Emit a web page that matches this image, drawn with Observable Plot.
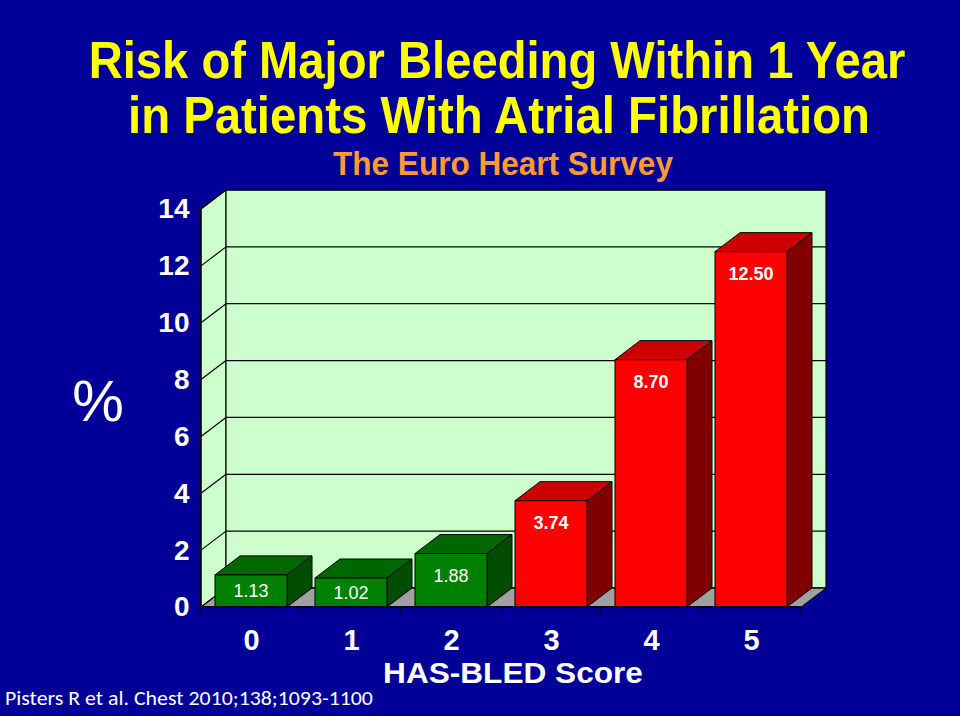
<!DOCTYPE html>
<html>
<head>
<meta charset="utf-8">
<script src="https://cdn.jsdelivr.net/npm/d3@7"></script>
<script src="https://cdn.jsdelivr.net/npm/@observablehq/plot@0.6"></script>
<style>
html, body { margin: 0; padding: 0; background: #000099; }
#chart { width: 960px; height: 716px; overflow: hidden; }
</style>
</head>
<body>
<div id="chart"></div>
<script>
// ---- data ----
const scores = ["0", "1", "2", "3", "4", "5"];
const risk = [1.13, 1.02, 1.88, 3.74, 8.70, 12.50];
const riskLabels = ["1.13", "1.02", "1.88", "3.74", "8.70", "12.50"];
const riskGroup = ["low", "low", "low", "high", "high", "high"];
const yTicks = [0, 2, 4, 6, 8, 10, 12, 14];
const titleLines = ["Risk of Major Bleeding Within 1 Year", "in Patients With Atrial Fibrillation"];
const subtitle = "The Euro Heart Survey";
const xTitle = "HAS-BLED Score";
const yTitle = "%";
const caption = "Pisters R et al. Chest 2010;138;1093-1100";

const data = scores.map((s, i) => ({score: s, risk: risk[i], label: riskLabels[i], group: riskGroup[i]}));

// ---- styles ----
const BG = "#000099";
const WALL = "#ccffcc";
const FLOOR = "#a0a0a0";
const DX = 25, DY = -19;
const faces = {
  low:  {front: "#008000", top: "#006600", side: "#004c00", weight: "normal"},
  high: {front: "#ff0000", top: "#cc0000", side: "#800000", weight: "bold"}
};
const SANS = "'Liberation Sans', Arial, Helvetica, sans-serif";
const NARROW = "'Liberation Sans Narrow', 'Arial Narrow', 'Liberation Sans', Arial, sans-serif";

function bw(x) { return typeof x.bandwidth === "function" ? x.bandwidth() : x.bandwidth; }
function stepOf(x) { return typeof x.step === "function" ? x.step() : x.step; }

// walls, floor, gridlines, axes lines
function wallsMark(index, scales, values, dims) {
  const {x, y} = scales;
  const x0 = dims.marginLeft, x1 = dims.width - dims.marginRight;
  const yb = y(0), yt = y(d3.max(yTicks));
  const g = d3.create("svg:g");
  g.append("path")
    .attr("d", `M${x0},${yb}L${x0 + DX},${yb + DY}L${x0 + DX},${yt + DY}L${x0},${yt}Z`)
    .attr("fill", WALL).attr("stroke", "#000").attr("stroke-width", 1);
  g.append("rect")
    .attr("x", x0 + DX).attr("y", yt + DY).attr("width", x1 - x0).attr("height", yb - yt)
    .attr("fill", WALL).attr("stroke", "#000").attr("stroke-width", 1.2);
  g.append("path")
    .attr("d", `M${x0},${yb}L${x1},${yb}L${x1 + DX},${yb + DY}L${x0 + DX},${yb + DY}Z`)
    .attr("fill", FLOOR).attr("stroke", "#000").attr("stroke-width", 0.8);
  for (const v of yTicks) {
    const yy = y(v);
    g.append("line").attr("x1", x0 + DX).attr("x2", x1 + DX).attr("y1", yy + DY).attr("y2", yy + DY)
      .attr("stroke", "#000").attr("stroke-width", 1.2);
    g.append("line").attr("x1", x0).attr("x2", x0 + DX).attr("y1", yy).attr("y2", yy + DY)
      .attr("stroke", "#000").attr("stroke-width", 1.2);
    g.append("line").attr("x1", x0 - 4).attr("x2", x0).attr("y1", yy).attr("y2", yy)
      .attr("stroke", "#000").attr("stroke-width", 1);
  }
  g.append("line").attr("x1", x0).attr("x2", x0).attr("y1", yt).attr("y2", yb)
    .attr("stroke", "#000").attr("stroke-width", 1.2);
  return g.node();
}

// 3D top and side faces of bars
function facesMark(index, scales, values, dims) {
  const {x, y} = scales;
  const w = bw(x);
  const g = d3.create("svg:g");
  for (const d of data) {
    const X0 = x(d.score), X1 = X0 + w, Yt = y(d.risk), Yb = y(0);
    const f = faces[d.group];
    g.append("path")
      .attr("d", `M${X0},${Yt}L${X0 + DX},${Yt + DY}L${X1 + DX},${Yt + DY}L${X1},${Yt}Z`)
      .attr("fill", f.top).attr("stroke", "#000").attr("stroke-width", 1).attr("stroke-linejoin", "round");
    g.append("path")
      .attr("d", `M${X1},${Yt}L${X1 + DX},${Yt + DY}L${X1 + DX},${Yb + DY}L${X1},${Yb}Z`)
      .attr("fill", f.side).attr("stroke", "#000").attr("stroke-width", 1).attr("stroke-linejoin", "round");
  }
  return g.node();
}

// value labels inside bars
function labelsMark(index, scales, values, dims) {
  const {x, y} = scales;
  const w = bw(x);
  const g = d3.create("svg:g");
  for (const d of data) {
    const top = y(d.risk), bottom = y(0), h = bottom - top;
    const cy = h < 40 ? (top + bottom) / 2 : top + 22;
    g.append("text")
      .attr("x", x(d.score) + w / 2).attr("y", cy)
      .attr("text-anchor", "middle").attr("dy", "0.36em")
      .attr("fill", "#ffffff").attr("font-family", SANS)
      .attr("font-size", 18).attr("font-weight", faces[d.group].weight)
      .text(d.label);
  }
  return g.node();
}

// bottom axis line with band ticks
function xAxisMark(index, scales, values, dims) {
  const {x, y} = scales;
  const x0 = dims.marginLeft, x1 = dims.width - dims.marginRight;
  const yb = y(0);
  const st = stepOf(x), w = bw(x);
  const g = d3.create("svg:g");
  g.append("line").attr("x1", x0).attr("x2", x1).attr("y1", yb).attr("y2", yb)
    .attr("stroke", "#000022").attr("stroke-width", 2);
  const dom = x.domain();
  const bounds = dom.map(c => x(c) - (st - w) / 2);
  bounds.push(x(dom[dom.length - 1]) + w + (st - w) / 2);
  for (const bx of bounds) {
    g.append("line").attr("x1", bx).attr("x2", bx).attr("y1", yb).attr("y2", yb + 7)
      .attr("stroke", "#000022").attr("stroke-width", 1.2);
  }
  return g.node();
}

const plot = Plot.plot({
  width: 960,
  height: 716,
  marginLeft: 201,
  marginRight: 159,
  marginTop: 209,
  marginBottom: 109,
  style: {background: BG, overflow: "visible", fontFamily: SANS},
  x: {domain: scores, paddingInner: 0.28, paddingOuter: 0.14, round: false, axis: null},
  y: {domain: [0, 14], axis: null},
  color: {domain: ["low", "high"], range: [faces.low.front, faces.high.front]},
  marks: [
    wallsMark,
    facesMark,
    Plot.barY(data, {x: "score", y: "risk", fill: "group", stroke: "#000", strokeWidth: 1}),
    labelsMark,
    xAxisMark,
    Plot.text(yTicks, {
      y: d => d, text: d => String(d), frameAnchor: "left", dx: -12, textAnchor: "end", lineAnchor: "middle",
      fill: "#ffffff", fontSize: 28, fontWeight: "bold", fontFamily: SANS
    }),
    Plot.text(data, {
      x: "score", text: "score", frameAnchor: "bottom", lineAnchor: "middle", dy: 33,
      fill: "#ffffff", fontSize: 29, fontWeight: "bold", fontFamily: SANS
    })
  ]
});

document.getElementById("chart").appendChild(plot);

// titles and annotations (scaled horizontally to the reference widths)
const svg = d3.select(plot.tagName.toLowerCase() === "svg" ? plot : plot.querySelector("svg"));
function addText(txt, opts) {
  const anchor = opts.anchor || "middle";
  const g = svg.append("g").attr("transform", `translate(${opts.x},${opts.y})`);
  const t = g.append("text")
    .attr("x", 0).attr("y", 0)
    .attr("text-anchor", anchor)
    .attr("fill", opts.fill)
    .attr("font-family", opts.family)
    .attr("font-size", opts.size)
    .attr("font-weight", opts.weight || "normal")
    .text(txt);
  if (opts.len) {
    const natural = t.node().getComputedTextLength();
    if (natural > 0) {
      const sx = opts.len / natural;
      g.attr("transform", `translate(${opts.x},${opts.y}) scale(${sx},1)`);
    }
  }
  return t;
}
addText(titleLines[0], {x: 497, y: 78, fill: "#ffff00", family: NARROW, size: 52, weight: "bold", len: 817});
addText(titleLines[1], {x: 499, y: 133, fill: "#ffff00", family: NARROW, size: 52, weight: "bold", len: 742});
addText(subtitle, {x: 503, y: 175, fill: "#ff9933", family: NARROW, size: 33, weight: "bold", len: 340});
addText(xTitle, {x: 513, y: 683, fill: "#ffffff", family: SANS, size: 29.5, weight: "bold", len: 260});
addText(yTitle, {x: 98, y: 421, fill: "#ffffff", family: SANS, size: 58, weight: "normal"});
addText(caption, {x: 5, y: 705, anchor: "start", fill: "#ffffff", family: "Carlito, Lato, 'Open Sans', sans-serif", size: 20, len: 368});
</script>
</body>
</html>
